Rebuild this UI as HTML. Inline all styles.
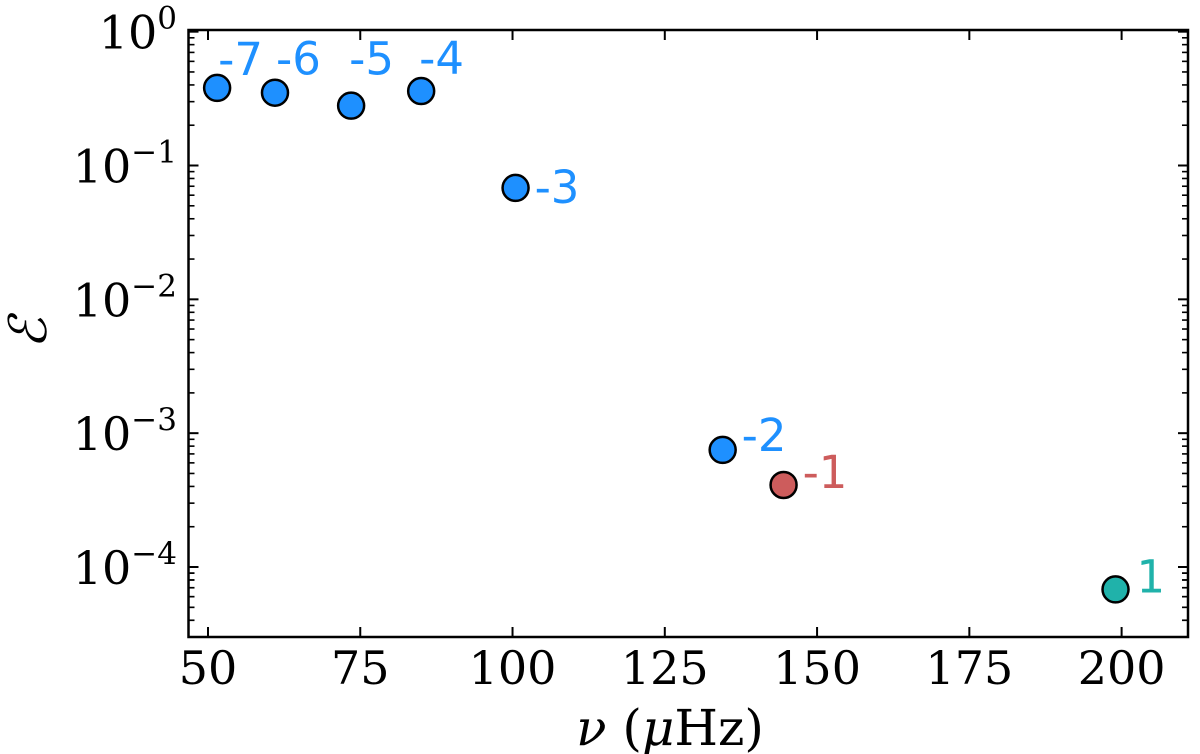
<!DOCTYPE html>
<html><head><meta charset="utf-8"><style>
body{margin:0;background:#fff}
svg{display:block}
text{font-family:"DejaVu Serif","Liberation Serif",serif;fill:#000}
.lab{font-family:"DejaVu Sans","Liberation Sans",sans-serif;font-size:45px}
</style></head><body>
<svg id="chart" width="1200" height="754" viewBox="0 0 1200 754" xmlns="http://www.w3.org/2000/svg">
<g id="ticks"></g>
<g id="points"></g>
<rect x="188.5" y="30" width="999.5" height="607" fill="none" stroke="#000" stroke-width="2.5"/>
<text x="670" y="745" font-size="50" text-anchor="middle"><tspan font-style="italic">ν</tspan> (<tspan font-style="italic">μ</tspan>Hz)</text>
<text x="46" y="333" font-size="52" font-style="italic" text-anchor="middle" transform="rotate(-90 46 333)">ℰ</text>
</svg>
<script>
const freqs=[51.5,61,73.5,85,100.5,134.5,144.5,199];
const energies=[0.38,0.35,0.28,0.36,0.068,7.5e-4,4.1e-4,6.8e-5];
const orders=["-7","-6","-5","-4","-3","-2","-1","1"];
const groups=["g","g","g","g","g","g","p","f"];
const xTicks=[50,75,100,125,150,175,200];
const yTickExps=[0,-1,-2,-3,-4];
const labelDx=[1,1,-2,-2,19,19,19,21];
const labelDy=[-13,-18,-31,-17,15,1,3,3];
const colors={g:"#1e90ff",p:"#cd5c5c",f:"#20b2aa"};
const X0=188.5,X1=1188,Y0=30,Y1=637;
const xMin=46.8,xMax=210.9,lMax=0.0125,lMin=-4.523;
const xs=v=>X0+(v-xMin)/(xMax-xMin)*(X1-X0);
const ys=v=>Y0+(lMax-Math.log10(v))/(lMax-lMin)*(Y1-Y0);
const NS="http://www.w3.org/2000/svg";
const tg=document.getElementById('ticks'),pg=document.getElementById('points');
function el(n,a,p){const e=document.createElementNS(NS,n);for(const k in a)e.setAttribute(k,a[k]);p.appendChild(e);return e;}
xTicks.forEach(t=>{const x=xs(t);
 const a=el('line',{x1:x,x2:x,y1:Y1,y2:Y1-10,stroke:'#000','stroke-width':2},tg);
 
 
 const b=el('line',{x1:x,x2:x,y1:Y0,y2:Y0+10,stroke:'#000','stroke-width':2},tg);
 
 
 const l=el('text',{x:x,y:Y1+47,'font-size':46,'text-anchor':'middle'},tg);l.textContent=t;
 
 
});
yTickExps.forEach(e=>{const y=ys(Math.pow(10,e));
 [[X0,X0+10],[X1,X1-10]].forEach(([a1,a2])=>{const m=el('line',{x1:a1,x2:a2,y1:y,y2:y,stroke:'#000','stroke-width':2},tg);
 
 });
 const l=el('text',{x:177,y:y+17,'font-size':46,'text-anchor':'end'},tg);
 
 
 const t1=el('tspan',{},l);t1.textContent='10';
 const t2=el('tspan',{'font-size':31,dy:-20},l);t2.textContent=(e<0?'−':'')+Math.abs(e);
 for(let k=2;k<10;k++){const v=Math.pow(10,e-1)*k;const yy=ys(v);if(yy>Y1||yy<Y0)continue;
  [[X0,X0+6],[X1,X1-6]].forEach(([a1,a2])=>{const m=el('line',{x1:a1,x2:a2,y1:yy,y2:yy,stroke:'#000','stroke-width':1.6},tg);
  
  });}
});
for(let k=2;k<10;k++){const yy=ys(Math.pow(10,-5)*k);if(yy>Y1)continue;
 [[X0,X0+6],[X1,X1-6]].forEach(([a1,a2])=>{const m=el('line',{x1:a1,x2:a2,y1:yy,y2:yy,stroke:'#000','stroke-width':1.6},tg);
 
 });}
freqs.forEach((f,i)=>{const cx=xs(f),cy=ys(energies[i]),c=colors[groups[i]];
 const p=el('circle',{cx:cx,cy:cy,r:13,fill:c,stroke:'#000','stroke-width':2.5},pg);
 
 
 const t=el('text',{x:cx+labelDx[i],y:cy+labelDy[i],class:'lab',fill:c},pg);
 t.style.fill=c;t.textContent=orders[i];
 
 
});
</script>
</body></html>
